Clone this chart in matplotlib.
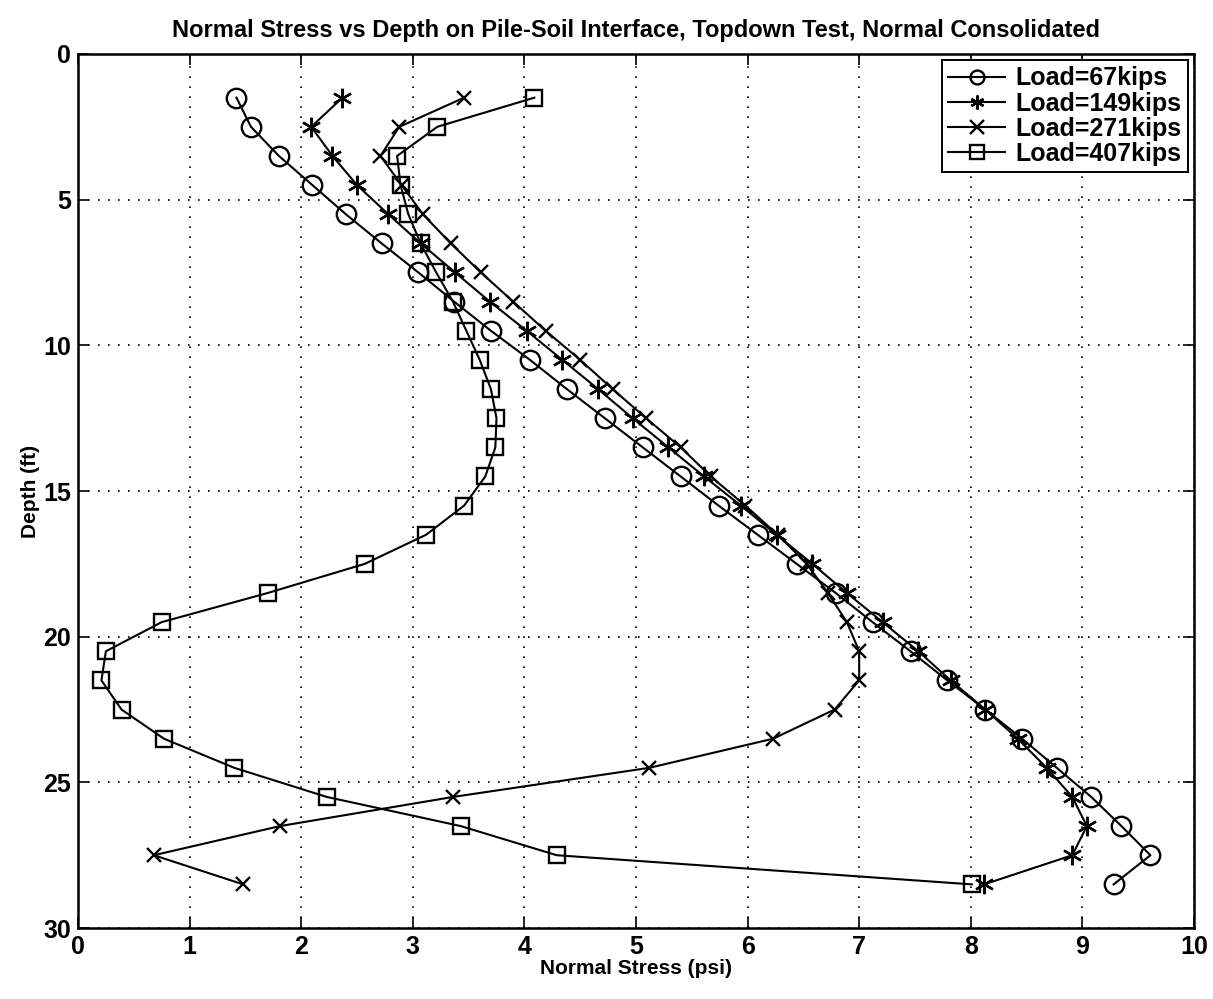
import numpy as np
import matplotlib
matplotlib.use("Agg")
import matplotlib.pyplot as plt

# Depth of each measurement point along the pile (ft)
depth = [1.5, 2.5, 3.5, 4.5, 5.5, 6.5, 7.5, 8.5, 9.5, 10.5, 11.5, 12.5, 13.5, 14.5,
         15.5, 16.5, 17.5, 18.5, 19.5, 20.5, 21.5, 22.5, 23.5, 24.5, 25.5, 26.5, 27.5, 28.5]

# Normal stress on the pile-soil interface (psi) for each applied load
stress_67 = [1.42, 1.55, 1.80, 2.10, 2.40, 2.72, 3.05, 3.37, 3.70, 4.05, 4.38, 4.72, 5.06, 5.40,
             5.74, 6.09, 6.44, 6.79, 7.12, 7.46, 7.79, 8.13, 8.46, 8.77, 9.08, 9.35, 9.61, 9.28]
stress_149 = [2.37, 2.09, 2.28, 2.50, 2.78, 3.07, 3.38, 3.69, 4.02, 4.34, 4.66, 4.97, 5.29, 5.61,
              5.94, 6.26, 6.58, 6.89, 7.21, 7.53, 7.82, 8.13, 8.42, 8.68, 8.91, 9.04, 8.91, 8.12]
stress_271 = [3.46, 2.88, 2.71, 2.90, 3.09, 3.34, 3.61, 3.90, 4.19, 4.50, 4.79, 5.09, 5.40, 5.67,
              5.98, 6.27, 6.53, 6.72, 6.89, 7.00, 7.00, 6.78, 6.23, 5.12, 3.36, 1.81, 0.68, 1.48]
stress_407 = [4.09, 3.22, 2.86, 2.89, 2.96, 3.07, 3.21, 3.36, 3.48, 3.60, 3.70, 3.75, 3.74, 3.65,
              3.46, 3.12, 2.57, 1.70, 0.75, 0.25, 0.21, 0.39, 0.77, 1.40, 2.23, 3.43, 4.29, 8.01]

labels = ["Load=67kips", "Load=149kips", "Load=271kips", "Load=407kips"]
x_ticks = [0, 1, 2, 3, 4, 5, 6, 7, 8, 9, 10]
y_ticks = [0, 5, 10, 15, 20, 25, 30]

plt.rcParams["font.family"] = ["Liberation Sans", "DejaVu Sans"]
plt.rcParams["font.weight"] = "bold"

fig = plt.figure(figsize=(12.13, 9.99), dpi=100)
ax = fig.add_axes([0.0643, 0.071, 0.920, 0.875])

asterisk = (6, 2, 0)
series = [
    (stress_67, "o", 14),
    (stress_149, asterisk, 14),
    (stress_271, "x", 10),
    (stress_407, "s", 12),
]
for (vals, mk, ms), lab in zip(series, labels):
    ax.plot(vals, depth, color="black", lw=1.5, marker=mk, markersize=ms,
            markerfacecolor="none", markeredgecolor="black", markeredgewidth=1.7,
            label=lab)

ax.set_xlim(0, 10)
ax.set_ylim(30, 0)
ax.set_xticks(x_ticks)
ax.set_yticks(y_ticks)
ax.tick_params(direction="in", length=8, width=1.2, top=True, right=True,
               labelsize=18, pad=5)
for lbl in ax.get_xticklabels() + ax.get_yticklabels():
    lbl.set_fontweight("bold")
ax.grid(True, linestyle=(0, (1, 5)), color="black", linewidth=1.2)
for sp in ax.spines.values():
    sp.set_linewidth(1.8)

ax.set_xlabel("Normal Stress (psi)", fontsize=15, fontweight="bold", labelpad=0)
ax.set_ylabel("Depth (ft)", fontsize=15, fontweight="bold", labelpad=2)
ax.set_title("Normal Stress vs Depth on Pile-Soil Interface, Topdown Test, Normal Consolidated",
             fontsize=17, fontweight="bold", pad=12)

leg = ax.legend(loc="upper right", frameon=True, fancybox=False,
                edgecolor="black", framealpha=1, borderpad=0.25, labelspacing=0.05,
                handlelength=2.3, handletextpad=0.4, borderaxespad=0.25,
                prop={"weight": "bold", "size": 18})
leg.get_frame().set_linewidth(1.4)
for h in leg.legend_handles:
    h.set_markersize(10)

fig.savefig("out.png", dpi=100, facecolor="white")
